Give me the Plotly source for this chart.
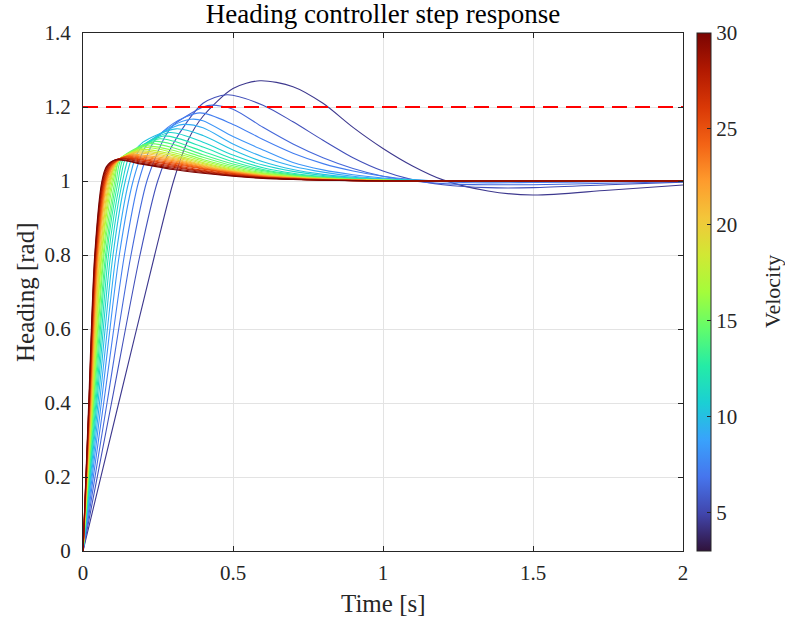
import plotly.graph_objects as go
from plotly.colors import sample_colorscale

# Vehicle velocities of the simulated step responses
velocity = list(range(3, 31))

# Initial ramp: time at which heading reaches 0.4, 0.8 and 1.0 rad
ramp_t04 = [0.119, 0.095, 0.080, 0.069, 0.061, 0.055, 0.050, 0.046, 0.043, 0.040,
            0.037, 0.035, 0.033, 0.032, 0.030, 0.029, 0.028, 0.027, 0.026, 0.025,
            0.024, 0.023, 0.022, 0.022, 0.021, 0.020, 0.020, 0.019]
ramp_t08 = [0.239, 0.190, 0.160, 0.138, 0.121, 0.110, 0.100, 0.092, 0.085, 0.079,
            0.075, 0.070, 0.067, 0.063, 0.061, 0.058, 0.056, 0.053, 0.051, 0.049,
            0.048, 0.046, 0.045, 0.043, 0.042, 0.041, 0.040, 0.039]
reach_t = [0.302, 0.249, 0.213, 0.186, 0.167, 0.153, 0.141, 0.132, 0.124, 0.117,
           0.111, 0.106, 0.101, 0.097, 0.093, 0.090, 0.087, 0.084, 0.081, 0.079,
           0.077, 0.075, 0.073, 0.071, 0.069, 0.067, 0.065, 0.063]

# Knee after the ramp
knee_t = [0.350, 0.300, 0.270, 0.235, 0.209, 0.188, 0.170, 0.157, 0.145, 0.136,
          0.128, 0.121, 0.122, 0.118, 0.115, 0.113, 0.113, 0.114, 0.109, 0.106,
          0.102, 0.098, 0.095, 0.092, 0.088, 0.085, 0.081, 0.078]
knee_y = [1.110, 1.100, 1.115, 1.105, 1.093, 1.085, 1.077, 1.072, 1.067, 1.063,
          1.060, 1.057, 1.057, 1.056, 1.055, 1.054, 1.053, 1.051, 1.049, 1.048,
          1.046, 1.045, 1.0435, 1.042, 1.0415, 1.041, 1.0395, 1.039]

# Overshoot peak
peak_t = [0.590, 0.480, 0.430, 0.390, 0.360, 0.335, 0.310, 0.290, 0.272, 0.256,
          0.242, 0.229, 0.217, 0.206, 0.196, 0.187, 0.178, 0.170, 0.162, 0.155,
          0.148, 0.142, 0.136, 0.130, 0.124, 0.118, 0.112, 0.106]
peak_y = [1.271, 1.233, 1.205, 1.184, 1.167, 1.153, 1.141, 1.131, 1.122, 1.114,
          1.107, 1.101, 1.095, 1.090, 1.085, 1.081, 1.078, 1.075, 1.072, 1.070,
          1.068, 1.066, 1.064, 1.062, 1.061, 1.060, 1.058, 1.057]

# Settling part of each response on a shared time grid (None = not sampled)
tail_t = [0.2, 0.3, 0.4, 0.5, 0.6, 0.7, 0.8, 0.9, 1.0, 1.1, 1.2, 1.35, 1.5, 1.75, 2.0]
tail_y = [
    [None, None, 1.175, 1.250, None, 1.255, 1.210, 1.145, 1.088, 1.040, 1.003, 0.973, 0.962, 0.975, 0.989],
    [None, None, 1.210, None, 1.205, 1.160, 1.110, 1.063, 1.027, 1.003, 0.990, 0.982, 0.982, 0.990, 0.997],
    [None, 1.150, 1.200, 1.194, 1.145, 1.100, 1.063, 1.034, 1.013, 1.000, 0.993, 0.990, 0.990, 0.994, 0.998],
    [None, 1.155, None, 1.153, 1.112, 1.075, 1.047, 1.027, 1.013, 1.004, 0.998, 0.995, 0.996, 0.998, 1.000],
    [None, 1.150, 1.163, 1.120, 1.084, 1.050, 1.030, 1.017, 1.008, 1.003, 1.000, 0.998, 0.998, 0.999, 1.000],
    [None, 1.145, 1.144, 1.100, 1.065, 1.040, 1.024, 1.013, 1.006, 1.002, 1.000, 0.999, 0.999, 1.000, 1.000],
    [1.105, None, 1.123, 1.084, 1.052, 1.031, 1.018, 1.010, 1.005, 1.002, 1.000, 1.000, 1.000, 1.000, 1.000],
    [1.098, None, 1.105, 1.070, 1.043, 1.026, 1.015, 1.008, 1.004, 1.002, 1.001, 1.000, 1.000, 1.000, 1.000],
    [1.097, None, 1.092, 1.060, 1.036, 1.021, 1.012, 1.007, 1.003, 1.001, 1.000, 1.000, 1.000, 1.000, 1.000],
    [1.095, 1.108, 1.080, 1.052, 1.031, 1.018, 1.010, 1.006, 1.003, 1.001, 1.000, 1.000, 1.000, 1.000, 1.000],
    [1.093, 1.099, 1.071, 1.046, 1.028, 1.016, 1.009, 1.005, 1.002, 1.001, 1.000, 1.000, 1.000, 1.000, 1.000],
    [1.097, 1.090, 1.064, 1.041, 1.025, 1.014, 1.008, 1.004, 1.002, 1.001, 1.000, 1.000, 1.000, 1.000, 1.000],
    [1.094, 1.083, 1.058, 1.037, 1.022, 1.013, 1.007, 1.004, 1.002, 1.001, 1.000, 1.000, 1.000, 1.000, 1.000],
    [None, 1.077, 1.054, 1.034, 1.020, 1.012, 1.007, 1.004, 1.002, 1.001, 1.000, 1.000, 1.000, 1.000, 1.000],
    [None, 1.072, 1.050, 1.031, 1.018, 1.011, 1.006, 1.003, 1.002, 1.001, 1.000, 1.000, 1.000, 1.000, 1.000],
    [None, 1.068, 1.047, 1.029, 1.017, 1.010, 1.006, 1.003, 1.002, 1.001, 1.000, 1.000, 1.000, 1.000, 1.000],
    [None, 1.064, 1.044, 1.027, 1.016, 1.009, 1.005, 1.003, 1.001, 1.000, 1.000, 1.000, 1.000, 1.000, 1.000],
    [None, 1.061, 1.042, 1.026, 1.015, 1.009, 1.005, 1.003, 1.001, 1.000, 1.000, 1.000, 1.000, 1.000, 1.000],
    [1.070, 1.058, 1.040, 1.025, 1.014, 1.008, 1.005, 1.003, 1.001, 1.000, 1.000, 1.000, 1.000, 1.000, 1.000],
    [1.067, 1.055, 1.038, 1.024, 1.014, 1.008, 1.004, 1.002, 1.001, 1.000, 1.000, 1.000, 1.000, 1.000, 1.000],
    [1.064, 1.052, 1.036, 1.023, 1.013, 1.008, 1.004, 1.002, 1.001, 1.000, 1.000, 1.000, 1.000, 1.000, 1.000],
    [1.061, 1.049, 1.034, 1.021, 1.012, 1.007, 1.004, 1.002, 1.001, 1.000, 1.000, 1.000, 1.000, 1.000, 1.000],
    [1.058, 1.046, 1.032, 1.020, 1.011, 1.006, 1.003, 1.002, 1.001, 1.000, 1.000, 1.000, 1.000, 1.000, 1.000],
    [1.056, 1.043, 1.029, 1.018, 1.010, 1.006, 1.003, 1.002, 1.001, 1.000, 1.000, 1.000, 1.000, 1.000, 1.000],
    [1.053, 1.040, 1.027, 1.016, 1.009, 1.005, 1.003, 1.001, 1.000, 1.000, 1.000, 1.000, 1.000, 1.000, 1.000],
    [1.050, 1.037, 1.025, 1.015, 1.009, 1.005, 1.003, 1.001, 1.000, 1.000, 1.000, 1.000, 1.000, 1.000, 1.000],
    [1.047, 1.034, 1.023, 1.014, 1.008, 1.005, 1.002, 1.001, 1.000, 1.000, 1.000, 1.000, 1.000, 1.000, 1.000],
    [1.045, 1.031, 1.021, 1.013, 1.007, 1.004, 1.002, 1.001, 1.000, 1.000, 1.000, 1.000, 1.000, 1.000, 1.000],
]

heading_limit = 1.2
x_ticks = [0, 0.5, 1, 1.5, 2]
x_tick_text = ["0", "0.5", "1", "1.5", "2"]
y_ticks = [0, 0.2, 0.4, 0.6, 0.8, 1.0, 1.2, 1.4]
y_tick_text = ["0", "0.2", "0.4", "0.6", "0.8", "1", "1.2", "1.4"]
cbar_ticks = [5, 10, 15, 20, 25, 30]

FONT = "Liberation Serif"
TEXT = "#262626"
V_MIN, V_MAX = 3, 30

fig = go.Figure()

for i, v in enumerate(velocity):
    pts = [(0.0, 0.0), (ramp_t04[i], 0.4), (ramp_t08[i], 0.8), (reach_t[i], 1.0),
           (knee_t[i], knee_y[i]), (peak_t[i], peak_y[i])]
    pts += [(t, y) for t, y in zip(tail_t, tail_y[i]) if y is not None]
    pts.sort()
    color = sample_colorscale("Turbo", [(v - V_MIN + 1.5) / (V_MAX - V_MIN + 1.5)])[0]
    fig.add_trace(go.Scatter(
        x=[p[0] for p in pts], y=[p[1] for p in pts], mode="lines",
        line=dict(color=color, width=1.1, shape="spline", smoothing=0.8),
        hoverinfo="skip", showlegend=False,
    ))

# Heading limit
fig.add_trace(go.Scatter(
    x=[0, 2], y=[heading_limit, heading_limit], mode="lines",
    line=dict(color="#ff0000", width=2, dash="15px,8px"),
    hoverinfo="skip", showlegend=False,
))

# Colour scale for velocity
fig.add_trace(go.Scatter(
    x=[None], y=[None], mode="markers",
    marker=dict(
        color=[V_MIN], colorscale="Turbo", cmin=V_MIN, cmax=V_MAX, showscale=True,
        colorbar=dict(
            x=(697 - 83) / 600, xanchor="left", xpad=0, ypad=0,
            y=0.5, yanchor="middle", len=1, lenmode="fraction",
            thickness=14, thicknessmode="pixels",
            outlinewidth=1, outlinecolor=TEXT,
            tickvals=cbar_ticks, ticks="inside", ticklen=4, tickcolor=TEXT,
            tickfont=dict(family=FONT, size=21, color=TEXT),
        ),
    ),
    hoverinfo="skip", showlegend=False,
))

axis_common = dict(
    showline=True, linecolor=TEXT, linewidth=1, mirror="ticks",
    ticks="inside", ticklen=5, tickcolor=TEXT,
    showgrid=True, gridcolor="#e3e3e3", gridwidth=1, zeroline=False,
    tickfont=dict(family=FONT, size=21, color=TEXT),
)

fig.update_xaxes(range=[0, 2], tickvals=x_ticks, ticktext=x_tick_text,
                 ticklabelstandoff=3, **axis_common)
fig.update_yaxes(range=[0, 1.4], tickvals=y_ticks, ticktext=y_tick_text,
                 ticklabelstandoff=7, **axis_common)

fig.update_layout(
    width=785, height=621,
    margin=dict(l=83, r=102, t=33, b=70),
    paper_bgcolor="white", plot_bgcolor="white",
    title=dict(text="Heading controller step response", x=(83 + 300) / 785,
               xanchor="center", y=1 - 14 / 621, yanchor="middle", yref="container",
               font=dict(family=FONT, size=27, color="#000000")),
    annotations=[
        dict(text="Time [s]", xref="paper", yref="paper", x=0.5, y=(551 - 603) / 518,
             xanchor="center", yanchor="middle", showarrow=False,
             font=dict(family=FONT, size=25, color=TEXT)),
        dict(text="Heading [rad]", xref="paper", yref="paper", x=(25 - 83) / 600, y=0.5,
             xanchor="center", yanchor="middle", textangle=-90, showarrow=False,
             font=dict(family=FONT, size=25, color=TEXT)),
        dict(text="Velocity", xref="paper", yref="paper", x=(772 - 83) / 600, y=0.5,
             xanchor="center", yanchor="middle", textangle=-90, showarrow=False,
             font=dict(family=FONT, size=22, color=TEXT)),
    ],
)

fig.write_html("out.html")
